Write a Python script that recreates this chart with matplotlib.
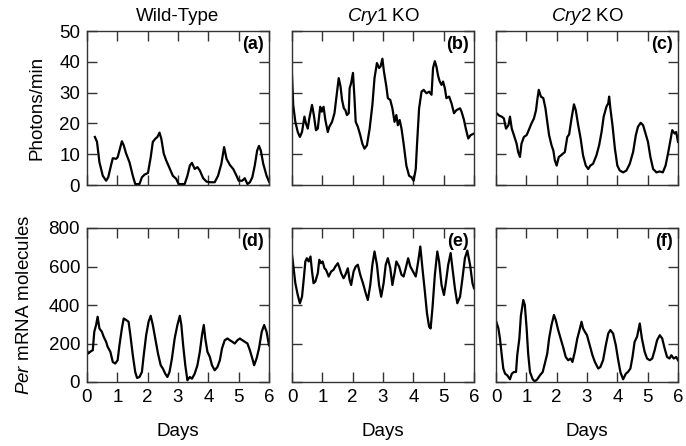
import matplotlib
matplotlib.use('Agg')
import matplotlib.pyplot as plt

plt.rcParams['font.family'] = ['Liberation Sans', 'DejaVu Sans']
plt.rcParams['mathtext.fontset'] = 'custom'
plt.rcParams['mathtext.rm'] = 'Liberation Sans'
plt.rcParams['mathtext.it'] = 'Liberation Sans:italic'

wt_photon_days = [0.26, 0.33, 0.41, 0.52, 0.63, 0.70, 0.79, 0.85, 0.96, 1.01, 1.07, 1.15, 1.21, 1.29,
                  1.40, 1.51, 1.59, 1.73, 1.81, 1.90, 2.01, 2.10, 2.17, 2.25, 2.32, 2.39, 2.45, 2.53,
                  2.61, 2.72, 2.83, 2.94, 3.02, 3.22, 3.31, 3.39, 3.46, 3.55, 3.64, 3.72, 3.83, 3.94,
                  4.05, 4.21, 4.32, 4.43, 4.52, 4.60, 4.71, 4.82, 4.93, 5.00, 5.12, 5.20, 5.29, 5.37,
                  5.45, 5.53, 5.61, 5.67, 5.73, 5.81, 5.92, 6.00]
wt_photon = [15.6, 14.0, 7.4, 3.0, 1.4, 2.5, 6.3, 8.7, 8.5, 9.0, 11.2, 14.2, 12.9, 10.2,
             7.4, 3.0, 0.3, 0.3, 2.5, 3.4, 3.9, 9.0, 14.0, 15.0, 15.6, 17.0, 15.0, 10.2,
             8.0, 5.5, 3.0, 2.0, 0.3, 0.3, 3.0, 6.3, 7.2, 5.2, 5.8, 4.7, 2.2, 1.1,
             0.9, 0.9, 3.0, 6.9, 12.3, 8.5, 6.5, 5.2, 3.0, 1.4, 1.4, 2.2, 0.3, 0.9,
             2.5, 6.3, 11.2, 12.7, 11.2, 6.9, 3.0, 1.1]

cry1_photon_days = [0.00, 0.04, 0.11, 0.19, 0.26, 0.33, 0.41, 0.46, 0.52, 0.57, 0.66, 0.72, 0.79, 0.85,
                    0.93, 0.98, 1.04, 1.10, 1.18, 1.23, 1.32, 1.40, 1.46, 1.54, 1.60, 1.65, 1.71, 1.76,
                    1.81, 1.87, 1.90, 1.95, 2.01, 2.06, 2.10, 2.17, 2.25, 2.32, 2.39, 2.47, 2.56, 2.65,
                    2.72, 2.80, 2.87, 2.92, 2.98, 3.03, 3.11, 3.16, 3.24, 3.31, 3.38, 3.44, 3.49, 3.55,
                    3.61, 3.68, 3.77, 3.86, 3.94, 4.01, 4.08, 4.12, 4.19, 4.27, 4.34, 4.43, 4.52, 4.60,
                    4.65, 4.71, 4.76, 4.82, 4.87, 4.93, 4.98, 5.04, 5.09, 5.18, 5.26, 5.34, 5.42, 5.54,
                    5.59, 5.67, 5.73, 5.81, 5.89, 6.00]
cry1_photon = [35.8, 26.0, 20.5, 17.2, 15.6, 17.2, 22.2, 20.0, 18.3, 21.6, 26.0, 22.7, 17.8, 18.3,
               25.4, 23.8, 25.4, 21.1, 17.2, 18.9, 20.5, 23.3, 28.2, 34.7, 32.0, 27.6, 24.9, 24.3,
               22.7, 23.3, 31.4, 33.1, 36.4, 28.2, 20.5, 18.9, 16.2, 13.4, 11.8, 12.9, 18.3, 26.0,
               34.7, 39.6, 38.0, 38.5, 41.0, 36.9, 32.0, 28.2, 27.6, 24.9, 20.5, 22.7, 19.4, 21.1,
               18.3, 13.4, 6.3, 3.0, 2.5, 1.4, 5.2, 12.9, 24.9, 30.3, 30.9, 29.8, 30.3, 29.3,
               38.0, 40.2, 38.5, 35.3, 33.6, 32.5, 33.6, 31.4, 28.2, 28.7, 26.5, 23.3, 24.3, 24.9,
               23.8, 21.1, 18.3, 15.1, 16.2, 16.7]

cry2_photon_days = [0.02, 0.11, 0.19, 0.26, 0.33, 0.41, 0.46, 0.52, 0.59, 0.68, 0.73, 0.79, 0.84, 0.92,
                    1.01, 1.10, 1.17, 1.25, 1.32, 1.36, 1.41, 1.48, 1.56, 1.63, 1.69, 1.75, 1.83, 1.89,
                    1.94, 2.00, 2.07, 2.14, 2.21, 2.27, 2.35, 2.41, 2.49, 2.57, 2.63, 2.71, 2.79, 2.87,
                    2.96, 3.04, 3.11, 3.20, 3.31, 3.40, 3.48, 3.55, 3.64, 3.70, 3.73, 3.77, 3.84, 3.92,
                    4.00, 4.08, 4.19, 4.30, 4.41, 4.52, 4.61, 4.68, 4.77, 4.85, 4.93, 5.01, 5.09, 5.18,
                    5.29, 5.39, 5.50, 5.59, 5.67, 5.75, 5.81, 5.89, 5.94, 6.00]
cry2_photon = [23.3, 22.5, 22.2, 21.6, 18.3, 19.4, 22.2, 18.3, 16.2, 13.4, 10.7, 9.1, 13.4, 15.6,
               16.2, 18.3, 20.0, 21.6, 24.3, 27.6, 30.9, 28.7, 28.2, 24.9, 20.5, 16.2, 12.9, 11.2,
               8.0, 6.3, 9.1, 9.6, 10.2, 10.7, 15.6, 16.4, 21.6, 26.2, 24.3, 19.4, 15.1, 9.6,
               6.3, 5.2, 6.3, 6.9, 9.6, 12.9, 17.2, 22.2, 25.4, 26.5, 28.7, 24.9, 19.4, 11.8,
               6.3, 4.7, 4.1, 4.7, 6.9, 10.7, 16.2, 18.9, 20.2, 19.4, 16.7, 14.0, 9.1, 5.2,
               4.1, 4.4, 4.1, 6.3, 10.2, 14.5, 17.8, 16.7, 17.2, 14.0]

wt_mrna_days = [0.00, 0.04, 0.13, 0.19, 0.24, 0.30, 0.35, 0.41, 0.49, 0.55, 0.63, 0.68, 0.77, 0.85,
                0.93, 1.01, 1.07, 1.15, 1.21, 1.29, 1.37, 1.43, 1.51, 1.59, 1.65, 1.73, 1.81, 1.87,
                1.95, 2.03, 2.10, 2.17, 2.25, 2.34, 2.43, 2.50, 2.58, 2.65, 2.72, 2.80, 2.89, 2.98,
                3.06, 3.11, 3.17, 3.24, 3.31, 3.39, 3.46, 3.55, 3.64, 3.72, 3.79, 3.85, 3.90, 3.97,
                4.05, 4.12, 4.21, 4.30, 4.38, 4.45, 4.54, 4.63, 4.71, 4.79, 4.87, 4.96, 5.04, 5.12,
                5.20, 5.29, 5.37, 5.45, 5.51, 5.59, 5.67, 5.76, 5.84, 5.92, 6.00]
wt_mrna = [165, 148, 160, 165, 261, 296, 339, 278, 261, 235, 209, 183, 157, 104,
           96, 113, 191, 278, 330, 322, 313, 243, 139, 52, 21, 26, 52, 139,
           243, 313, 344, 296, 226, 148, 87, 70, 43, 26, 52, 122, 226, 296,
           344, 296, 191, 87, 9, 26, 17, 43, 87, 157, 243, 296, 226, 157,
           130, 87, 61, 78, 113, 174, 217, 226, 217, 209, 200, 217, 226, 217,
           209, 200, 165, 122, 87, 122, 174, 261, 296, 261, 191]

cry1_mrna_days = [0.00, 0.04, 0.11, 0.19, 0.26, 0.33, 0.39, 0.44, 0.49, 0.55, 0.61, 0.66, 0.71, 0.77,
                  0.85, 0.90, 0.96, 1.01, 1.07, 1.12, 1.21, 1.29, 1.37, 1.43, 1.51, 1.57, 1.62, 1.70,
                  1.76, 1.84, 1.90, 1.95, 2.03, 2.10, 2.17, 2.25, 2.34, 2.43, 2.50, 2.58, 2.65, 2.72,
                  2.80, 2.87, 2.94, 3.02, 3.09, 3.16, 3.24, 3.31, 3.39, 3.44, 3.53, 3.61, 3.68, 3.75,
                  3.83, 3.90, 3.99, 4.08, 4.16, 4.23, 4.30, 4.38, 4.45, 4.52, 4.57, 4.63, 4.71, 4.79,
                  4.85, 4.93, 5.01, 5.07, 5.15, 5.23, 5.29, 5.37, 5.45, 5.54, 5.62, 5.70, 5.78, 5.87,
                  5.95, 6.00]
cry1_mrna = [661, 609, 513, 452, 409, 443, 539, 626, 643, 626, 652, 574, 513, 522,
             565, 635, 617, 626, 591, 583, 548, 574, 583, 600, 617, 591, 565, 539,
             557, 591, 530, 504, 574, 600, 609, 557, 513, 461, 426, 504, 609, 678,
             609, 504, 443, 513, 609, 643, 591, 504, 574, 626, 600, 557, 548, 591,
             643, 600, 574, 548, 626, 704, 591, 470, 357, 287, 278, 383, 557, 678,
             626, 504, 452, 513, 609, 670, 591, 487, 409, 443, 539, 643, 683, 609,
             513, 487]

cry2_mrna_days = [0.00, 0.08, 0.13, 0.19, 0.24, 0.30, 0.37, 0.46, 0.52, 0.59, 0.66, 0.70, 0.77, 0.82,
                  0.90, 0.95, 1.01, 1.06, 1.12, 1.21, 1.28, 1.36, 1.45, 1.54, 1.61, 1.69, 1.75, 1.83,
                  1.91, 1.97, 2.05, 2.13, 2.21, 2.30, 2.38, 2.46, 2.52, 2.60, 2.68, 2.74, 2.82, 2.87,
                  2.93, 3.00, 3.09, 3.18, 3.26, 3.37, 3.44, 3.53, 3.62, 3.70, 3.77, 3.86, 3.95, 4.02,
                  4.10, 4.19, 4.28, 4.35, 4.43, 4.50, 4.57, 4.65, 4.74, 4.81, 4.90, 4.98, 5.07, 5.15,
                  5.23, 5.31, 5.40, 5.48, 5.56, 5.64, 5.72, 5.78, 5.86, 5.94, 6.00]
cry2_mrna = [318, 278, 226, 139, 70, 43, 35, 14, 43, 52, 52, 139, 226, 344,
             426, 400, 278, 148, 52, 14, 3, 14, 35, 52, 96, 148, 226, 296,
             348, 322, 270, 226, 183, 130, 113, 122, 104, 157, 226, 261, 313, 278,
             261, 243, 191, 139, 104, 70, 78, 113, 191, 252, 270, 252, 191, 122,
             52, 14, 43, 52, 70, 130, 209, 235, 304, 226, 157, 122, 113, 122,
             165, 217, 243, 226, 174, 130, 122, 139, 122, 130, 113]

titles = ['Wild-Type', r'$\it{Cry1}$ KO', r'$\it{Cry2}$ KO']
panel_tags = ['(a)', '(b)', '(c)', '(d)', '(e)', '(f)']
day_ticks = [0, 1, 2, 3, 4, 5, 6]
photon_ticks = [0, 10, 20, 30, 40, 50]
mrna_ticks = [0, 200, 400, 600, 800]

traces = [
    (wt_photon_days, wt_photon), (cry1_photon_days, cry1_photon), (cry2_photon_days, cry2_photon),
    (wt_mrna_days, wt_mrna), (cry1_mrna_days, cry1_mrna), (cry2_mrna_days, cry2_mrna),
]

fig = plt.figure(figsize=(6.86, 4.46), dpi=100)
lefts = [87, 292, 496]
tops = [31, 228]
w_px, h_px = 182, 154
spine_col = '#333333'
fs = 13.5

for i, (xs, ys) in enumerate(traces):
    row, col = divmod(i, 3)
    ax = fig.add_axes([lefts[col] / 686, 1 - (tops[row] + h_px) / 446, w_px / 686, h_px / 446])
    ax.plot(xs, ys, color='black', lw=1.6)
    ax.set_xlim(0, 6)
    ax.set_xticks(day_ticks)
    if row == 0:
        ax.set_ylim(0, 50)
        ax.set_yticks(photon_ticks)
        ax.set_title(titles[col], fontsize=fs, pad=7)
    else:
        ax.set_ylim(0, 800)
        ax.set_yticks(mrna_ticks)
        ax.set_xlabel('Days', fontsize=fs, labelpad=12)
    ax.tick_params(direction='in', length=7, width=1, top=True, right=True,
                   labelsize=fs, color=spine_col, pad=5,
                   labelbottom=(row == 1), labelleft=(col == 0))
    for sp in ax.spines.values():
        sp.set_color(spine_col)
        sp.set_linewidth(1)
    ax.text(0.97, 0.965, panel_tags[i], transform=ax.transAxes, ha='right', va='top',
            fontsize=13, fontweight='bold')
    if col == 0:
        if row == 0:
            ax.set_ylabel('Photons/min', fontsize=fs, labelpad=10)
        else:
            ax.set_ylabel(r'$\it{Per}$ mRNA molecules', fontsize=fs, labelpad=11)

fig.savefig('out.png', dpi=100)
